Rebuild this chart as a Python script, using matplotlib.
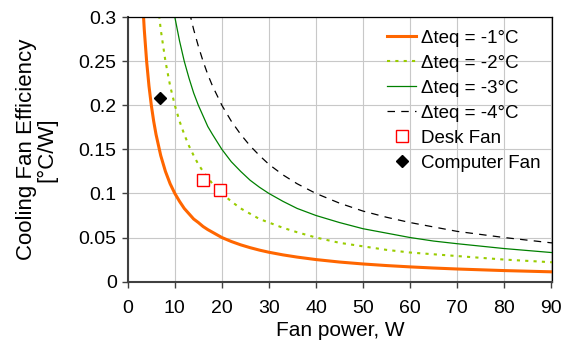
import matplotlib
matplotlib.use("Agg")
import matplotlib.pyplot as plt

plt.rcParams['font.family'] = ['Liberation Sans', 'DejaVu Sans']

# fan power (W) sample points and read-off efficiency values (degC/W)
power = [3, 3.5, 4, 4.5, 5, 5.5, 6, 7, 8, 9, 10, 11, 12, 13, 14, 15, 16, 17, 18, 20, 22,
         24, 26, 28, 30, 33, 36, 40, 45, 50, 55, 60, 65, 70, 80, 90, 92]
eff_dt1 = [0.333, 0.286, 0.25, 0.222, 0.2, 0.182, 0.167, 0.143, 0.125, 0.111, 0.1, 0.091,
           0.083, 0.077, 0.071, 0.067, 0.0625, 0.059, 0.056, 0.05, 0.0455, 0.0417, 0.0385,
           0.0357, 0.0333, 0.0303, 0.0278, 0.025, 0.0222, 0.02, 0.0182, 0.0167, 0.0154,
           0.0143, 0.0125, 0.0111, 0.0109]
eff_dt2 = [0.667, 0.571, 0.5, 0.444, 0.4, 0.364, 0.333, 0.286, 0.25, 0.222, 0.2, 0.182,
           0.167, 0.154, 0.143, 0.133, 0.125, 0.118, 0.111, 0.1, 0.091, 0.083, 0.077,
           0.071, 0.067, 0.061, 0.056, 0.05, 0.044, 0.04, 0.036, 0.033, 0.031, 0.029,
           0.025, 0.022, 0.0217]
eff_dt3 = [1.0, 0.857, 0.75, 0.667, 0.6, 0.545, 0.5, 0.429, 0.375, 0.333, 0.3, 0.273,
           0.25, 0.231, 0.214, 0.2, 0.188, 0.176, 0.167, 0.15, 0.136, 0.125, 0.115,
           0.107, 0.1, 0.091, 0.083, 0.075, 0.067, 0.06, 0.055, 0.05, 0.046, 0.043,
           0.0375, 0.033, 0.0326]
eff_dt4 = [1.333, 1.143, 1.0, 0.889, 0.8, 0.727, 0.667, 0.571, 0.5, 0.444, 0.4, 0.364,
           0.333, 0.308, 0.286, 0.267, 0.25, 0.235, 0.222, 0.2, 0.182, 0.167, 0.154,
           0.143, 0.133, 0.121, 0.111, 0.1, 0.089, 0.08, 0.073, 0.067, 0.062, 0.057,
           0.05, 0.044, 0.0435]

desk_x = [16.0, 19.6]
desk_y = [0.115, 0.104]
comp_x = [6.8]
comp_y = [0.208]

fig = plt.figure(figsize=(5.68, 3.43), dpi=100)
ax = fig.add_axes([0.225, 0.179, 0.747, 0.771])

ax.plot(power, eff_dt1, color='#FF6600', lw=2.2, label='Δteq = -1°C')
ax.plot(power, eff_dt2, color='#99CC00', lw=1.5, ls=(0, (1.5, 2.5)), label='Δteq = -2°C')
ax.plot(power, eff_dt3, color='#008000', lw=0.9, label='Δteq = -3°C')
ax.plot(power, eff_dt4, color='black', lw=0.9, ls=(0, (6, 5)), label='Δteq = -4°C')
ax.plot(desk_x, desk_y, ls='none', marker='s', ms=8, mfc='white', mec='#FF0000',
        mew=1.0, label='Desk Fan')
ax.plot(comp_x, comp_y, ls='none', marker='D', ms=6.5, color='black', label='Computer Fan')

ax.set_xlim(0, 90.2)
ax.set_ylim(0, 0.3)
ax.set_xticks(range(0, 91, 10))
ax.set_yticks([0, 0.05, 0.1, 0.15, 0.2, 0.25, 0.3])
ax.set_yticklabels(['0', '0.05', '0.1', '0.15', '0.2', '0.25', '0.3'])
ax.grid(True, color='#C8C8C8', lw=0.8)
ax.set_axisbelow(True)

for s in ['left', 'bottom']:
    ax.spines[s].set_color('#404040')
    ax.spines[s].set_linewidth(1.5)
for s in ['top', 'right']:
    ax.spines[s].set_color('black')
    ax.spines[s].set_linewidth(0.9)

ax.tick_params(direction='out', length=4, width=1, color='#404040', labelsize=14, pad=4)
ax.tick_params(axis='x', pad=9)

ax.set_xlabel('Fan power, W', fontsize=15, va='top')
ax.xaxis.set_label_coords(0.5, -0.148)
ax.set_ylabel('Cooling Fan Efficiency\n[°C/W]', fontsize=16, linespacing=1.0, va='center')
ax.yaxis.set_label_coords(-0.215, 0.5)

ax.legend(loc='upper right', bbox_to_anchor=(1.0, 0.996), frameon=False, fontsize=13.5,
          handlelength=1.5, handletextpad=0.3, labelspacing=0.42, borderaxespad=0.2)

fig.savefig('out.png', dpi=100)
